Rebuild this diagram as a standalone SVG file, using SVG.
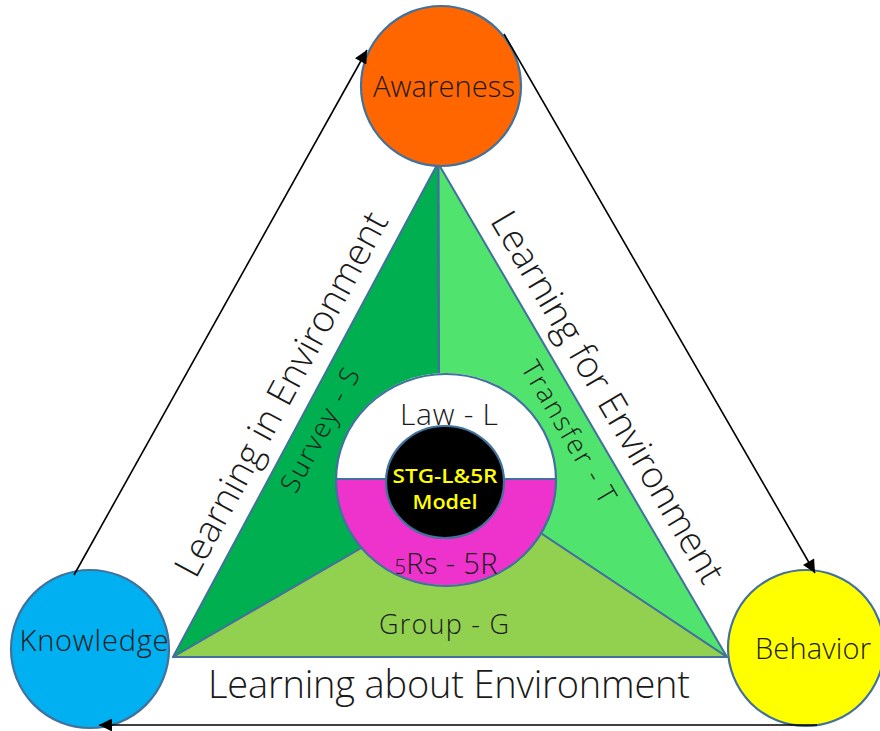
<svg xmlns="http://www.w3.org/2000/svg" width="880" height="731" viewBox="0 0 880 731">
<defs>
<style>
.reg{stroke:#41719C;stroke-width:2;stroke-linejoin:round}
.node{stroke:#41719C;stroke-width:2.2}
.t{font-family:"Open Sans","Liberation Sans",sans-serif;font-weight:300;fill:#1a1a1a;text-anchor:middle}
.m{font-family:"Open Sans","Liberation Sans",sans-serif;font-weight:600;fill:#FFFF00;text-anchor:middle}
.conn{stroke:#000;stroke-width:1.6;fill:none;marker-end:url(#ah)}
</style>
<marker id="ah" viewBox="0 0 10 10" refX="10" refY="5" markerWidth="15" markerHeight="13" markerUnits="userSpaceOnUse" orient="auto">
<path d="M0,0 L10,5 L0,10 z" fill="#000"/>
</marker>
</defs>
<rect width="880" height="731" fill="#fff"/>

<g id="model">
<polygon class="reg" fill="#00B050" points="438,163 173,657 370,543 446,480 439,390"/>
<polygon class="reg" fill="#50E36E" points="438,163 439,390 446,480 530,526 727,657"/>
<polygon class="reg" fill="#92D050" points="173,657 370,543 446,480 530,526 727,657"/>
<line class="reg" x1="438.5" y1="163" x2="439" y2="390"/>
<path d="M336,479 A110,106 0 0 1 556,479 Z" fill="#fff"/>
<path d="M336,479 A110,106 0 0 0 556,479 Z" fill="#EE33CC"/>
<line x1="336" y1="479" x2="556" y2="479" stroke="#41719C" stroke-width="2"/>
<ellipse cx="446" cy="480" rx="110" ry="106" fill="none" stroke="#41719C" stroke-width="2.2"/>
<ellipse cx="445" cy="482" rx="59" ry="56" fill="#000" stroke="#41719C" stroke-width="2.2"/>
<text class="t" x="449" y="425" font-size="30" textLength="98">Law - L</text>
<text class="m" x="445" y="483" font-size="19" textLength="105" lengthAdjust="spacingAndGlyphs">STG-L&amp;5R</text>
<text class="m" x="445" y="509" font-size="19" textLength="65" lengthAdjust="spacingAndGlyphs">Model</text>
<text class="t" x="446" y="574" font-size="29" textLength="103"><tspan font-size="20">5</tspan>Rs - 5R</text>
<text class="t" x="444" y="634" font-size="27" textLength="130">Group - G</text>
<text class="t" font-size="27" dy="0.35em" textLength="137" transform="translate(320,430) rotate(-61.7)">Survey - S</text>
<text class="t" font-size="27" dy="0.35em" textLength="160" transform="translate(569,432) rotate(59.6)">Transfer - T</text>
</g>

<g id="awareness">
<circle class="node" cx="441" cy="86" r="80" fill="#FF6600"/>
<text class="t" x="444" y="97" font-size="29" textLength="142">Awareness</text>
</g>
<g id="knowledge">
<circle class="node" cx="90" cy="649" r="79" fill="#00B0F0"/>
<text class="t" x="94" y="651" font-size="29" textLength="149">Knowledge</text>
</g>
<g id="behavior">
<circle class="node" cx="806" cy="648" r="78" fill="#FFFF00"/>
<text class="t" x="813" y="659" font-size="29" textLength="116">Behavior</text>
</g>

<g id="edge-labels">
<text class="t" font-size="37" dy="0.35em" textLength="408" transform="translate(281,394) rotate(-61.7)">Learning in Environment</text>
<text class="t" font-size="37" dy="0.35em" textLength="424" transform="translate(608,397) rotate(59.6)">Learning for Environment</text>
<text class="t" x="449" y="698" font-size="38" textLength="482">Learning about Environment</text>
</g>

<g id="connectors">
<line class="conn" x1="74" y1="575" x2="367" y2="50"/>
<line class="conn" x1="504" y1="34" x2="815" y2="573"/>
<line class="conn" x1="817" y1="725" x2="99" y2="725"/>
</g>
</svg>
